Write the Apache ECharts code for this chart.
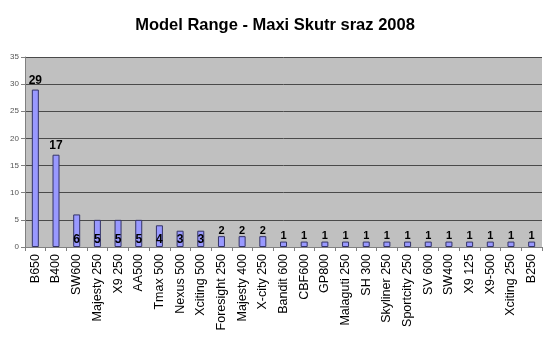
<!DOCTYPE html>
<html><head><meta charset="utf-8">
<script src="https://cdn.jsdelivr.net/npm/echarts@6/dist/echarts.min.js"></script>
<style>html,body{margin:0;padding:0;background:#fff}#c{width:550px;height:342px}</style>
</head><body><div id="c"></div>
<script>
const categories = ['B650','B400','SW600','Majesty 250','X9 250','AA500','Tmax 500','Nexus 500','Xciting 500','Foresight 250','Majesty 400','X-city 250','Bandit 600','CBF600','GP800','Malaguti 250','SH 300','Skyliner 250','Sportcity 250','SV 600','SW400','X9 125','X9-500','Xciting 250','B250'];
const values = [29,17,6,5,5,5,4,3,3,2,2,2,1,1,1,1,1,1,1,1,1,1,1,1,1];
const yTicks = [0,5,10,15,20,25,30,35];

const chart = echarts.init(document.getElementById('c'));
chart.setOption({
  animation:false,
  backgroundColor:'#fff',
  title:{text:'Model Range - Maxi Skutr sraz 2008',left:'center',top:12,
    textStyle:{fontFamily:'Liberation Sans, Arial',fontSize:16.5,fontWeight:'bold',color:'#000'}},
  grid:{left:25,right:8,top:57,bottom:95,show:true,backgroundColor:'#C0C0C0',borderWidth:0},
  xAxis:{type:'category',data:categories,
    axisLine:{lineStyle:{color:'#808080'}},
    axisTick:{show:true,length:4,lineStyle:{color:'#808080'}},
    axisLabel:{rotate:90,interval:0,fontFamily:'Liberation Sans, Arial',fontSize:12.5,color:'#000',margin:7}},
  yAxis:{type:'value',min:yTicks[0],max:yTicks[yTicks.length-1],interval:5,
    axisLine:{show:true,lineStyle:{color:'#808080'}},
    axisTick:{show:true,length:4,lineStyle:{color:'#808080'}},
    axisLabel:{fontFamily:'Liberation Sans, Arial',fontSize:8,color:'#555',margin:6},
    splitLine:{lineStyle:{color:'#4a4a4a',width:1}}},
  series:[{type:'bar',barWidth:7,
    itemStyle:{color:'#9999FF',borderColor:'#333366',borderWidth:1},
    data:values.map(v=>({value:v,label:{show:true,
      position:(v>=3&&v<=6)?'insideBottom':'top',
      distance:(v>=3&&v<=6)?1:(v>=10?3:0),
      fontFamily:'Liberation Sans, Arial',fontSize:(v>=10?12:(v>=3?12:11)),fontWeight:'bold',color:'#000'}}))}]
});
</script></body></html>
